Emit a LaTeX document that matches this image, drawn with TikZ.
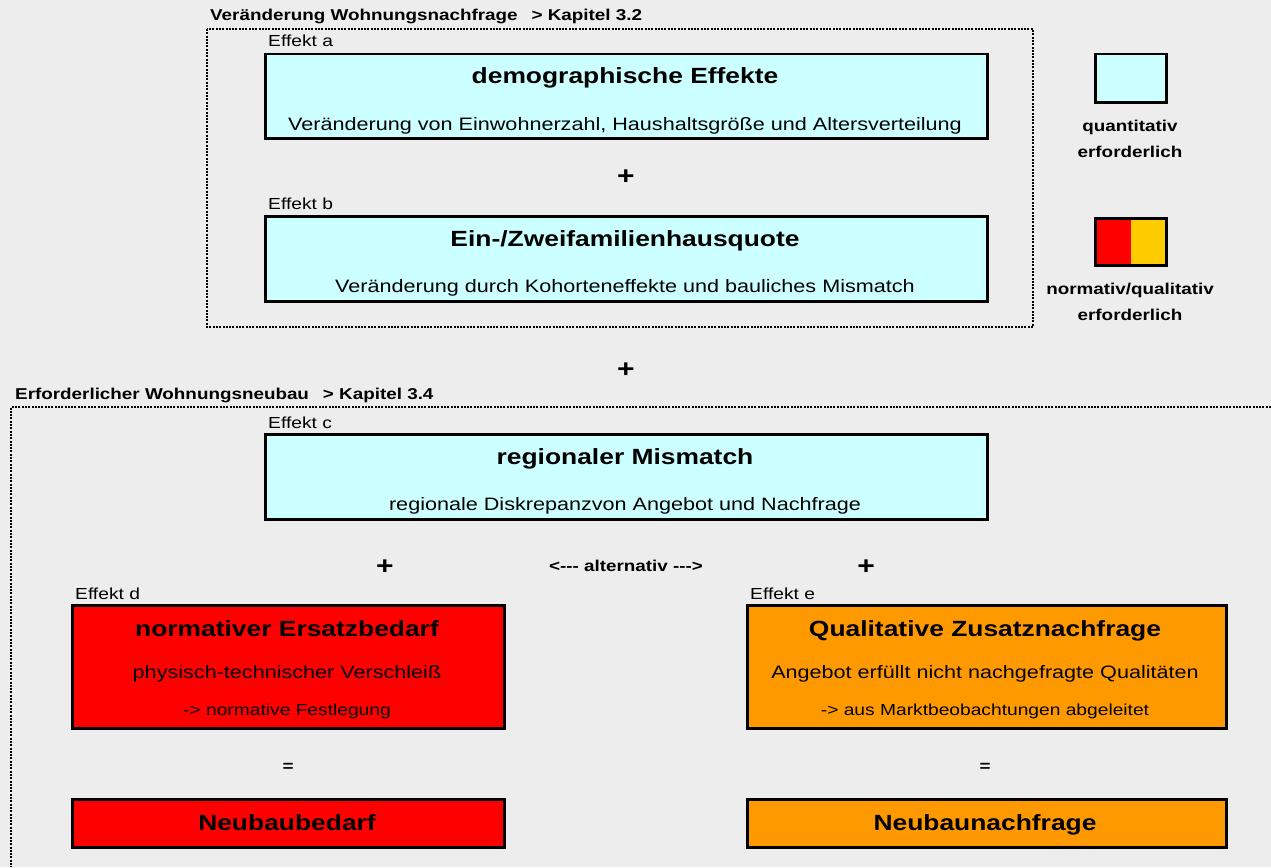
\documentclass[tikz,border=0pt]{standalone}
\usepackage{fontspec}
\setmainfont{Liberation Sans}[FakeStretch=1.2]
\usetikzlibrary{positioning}

\definecolor{bggrey}{HTML}{EDEDED}
\definecolor{quantcyan}{HTML}{CCFFFF}
\definecolor{normred}{HTML}{FF0000}
\definecolor{qualorange}{HTML}{FF9900}
\definecolor{legyellow}{HTML}{FFCC00}

\begin{document}
\begin{tikzpicture}
  [x=1pt,y=-1pt,
   box/.style={rectangle,draw=black,line width=2.5pt,inner sep=0pt,anchor=north west},
   dotline/.style={line width=1.5pt,dash pattern=on 2pt off 1.3pt},
   lbl/.style={anchor=base west,inner sep=0pt,font=\fontsize{16}{19}\selectfont},
   hdr/.style={anchor=base west,inner sep=0pt,font=\fontsize{15.7}{18}\selectfont\bfseries},
   ttl/.style={anchor=base,inner sep=0pt,font=\fontsize{22}{26}\selectfont\bfseries},
   sub/.style={anchor=base,inner sep=0pt,font=\fontsize{18}{21}\selectfont},
   small/.style={anchor=base,inner sep=0pt,font=\fontsize{16}{18}\selectfont},
   op/.style={anchor=base,inner sep=0pt,font=\fontsize{15.7}{18}\selectfont\bfseries},
   plus/.style={anchor=base,inner sep=0pt,font=\fontsize{25}{28}\selectfont\bfseries}]
  \fill[bggrey] (0,0) rectangle (1271,867);
  \useasboundingbox (0,0) rectangle (1271,867);

  % Wohnungsnachfrage
  \node[hdr] (h1) at (210,21) {Veränderung Wohnungsnachfrage\hspace{14pt}> Kapitel 3.2};
  \draw[dotline] (207,29) rectangle (1033,327);

  \node[lbl] (la) at (268,47) {Effekt a};
  \node[box,fill=quantcyan,minimum width=722pt,minimum height=84pt] (effa) at (264,53) {};
  \node[ttl] (ta) at (625,84) {demographische Effekte};
  \node[sub] (sa) at (625,130) {Veränderung von Einwohnerzahl, Haushaltsgröße und Altersverteilung};

  \node[plus] (p1) at (626,184) {+};

  \node[lbl] (lb) at (268,209) {Effekt b};
  \node[box,fill=quantcyan,minimum width=722pt,minimum height=85pt] (effb) at (264,215) {};
  \node[ttl] (tb) at (625,246) {Ein-/Zweifamilienhausquote};
  \node[sub] (sb) at (625,292) {Veränderung durch Kohorteneffekte und bauliches Mismatch};

  % legend
  \node[box,fill=quantcyan,minimum width=71pt,minimum height=48pt] (leg1) at (1094,53) {};
  \node[op] (leg1a) at (1130,131) {quantitativ};
  \node[op] (leg1b) at (1130,157) {erforderlich};
  \node[box,fill=normred,minimum width=71pt,minimum height=47pt,
        path picture={\fill[legyellow] (path picture bounding box.north) rectangle (path picture bounding box.south east);}] (leg2) at (1094,217) {};
  \node[op] (leg2a) at (1130,294) {normativ/qualitativ};
  \node[op] (leg2b) at (1130,320) {erforderlich};

  \node[plus] (p2) at (626,377) {+};

  % Wohnungsneubau
  \node[hdr] (h2) at (15,399) {Erforderlicher Wohnungsneubau\hspace{14pt}> Kapitel 3.4};
  \draw[dotline] (1271,407) -| (11,867);

  \node[lbl] (lc) at (268,428) {Effekt c};
  \node[box,fill=quantcyan,minimum width=722pt,minimum height=85pt] (effc) at (264,433) {};
  \node[ttl] (tc) at (625,464) {regionaler Mismatch};
  \node[sub] (sc) at (625,510) {regionale Diskrepanzvon Angebot und Nachfrage};

  \node[plus] (p3) at (385,574) {+};
  \node[op] (alt) at (626,571) {<-{}-{}- alternativ -{}-{}->};
  \node[plus] (p4) at (866,574) {+};

  \node[lbl] (ld) at (75,599) {Effekt d};
  \node[box,fill=normred,minimum width=432pt,minimum height=123pt] (effd) at (71,604) {};
  \node[ttl] (td) at (287,636) {normativer Ersatzbedarf};
  \node[sub] (sd) at (287,678) {physisch-technischer Verschleiß};
  \node[small] (nd) at (287,715) {-> normative Festlegung};

  \node[lbl] (le) at (750,599) {Effekt e};
  \node[box,fill=qualorange,minimum width=479pt,minimum height=123pt] (effe) at (746,604) {};
  \node[ttl] (te) at (985,636) {Qualitative Zusatznachfrage};
  \node[sub] (se) at (985,678) {Angebot erfüllt nicht nachgefragte Qualitäten};
  \node[small] (ne) at (985,715) {-> aus Marktbeobachtungen abgeleitet};

  \node[op] (eq1) at (288,771) {=};
  \node[op] (eq2) at (985,771) {=};

  \node[box,fill=normred,minimum width=432pt,minimum height=48pt] (bedarf) at (71,798) {};
  \node[ttl] (tbed) at (287,830) {Neubaubedarf};
  \node[box,fill=qualorange,minimum width=479pt,minimum height=48pt] (nachfr) at (746,798) {};
  \node[ttl] (tnach) at (985,830) {Neubaunachfrage};
\end{tikzpicture}
\end{document}
